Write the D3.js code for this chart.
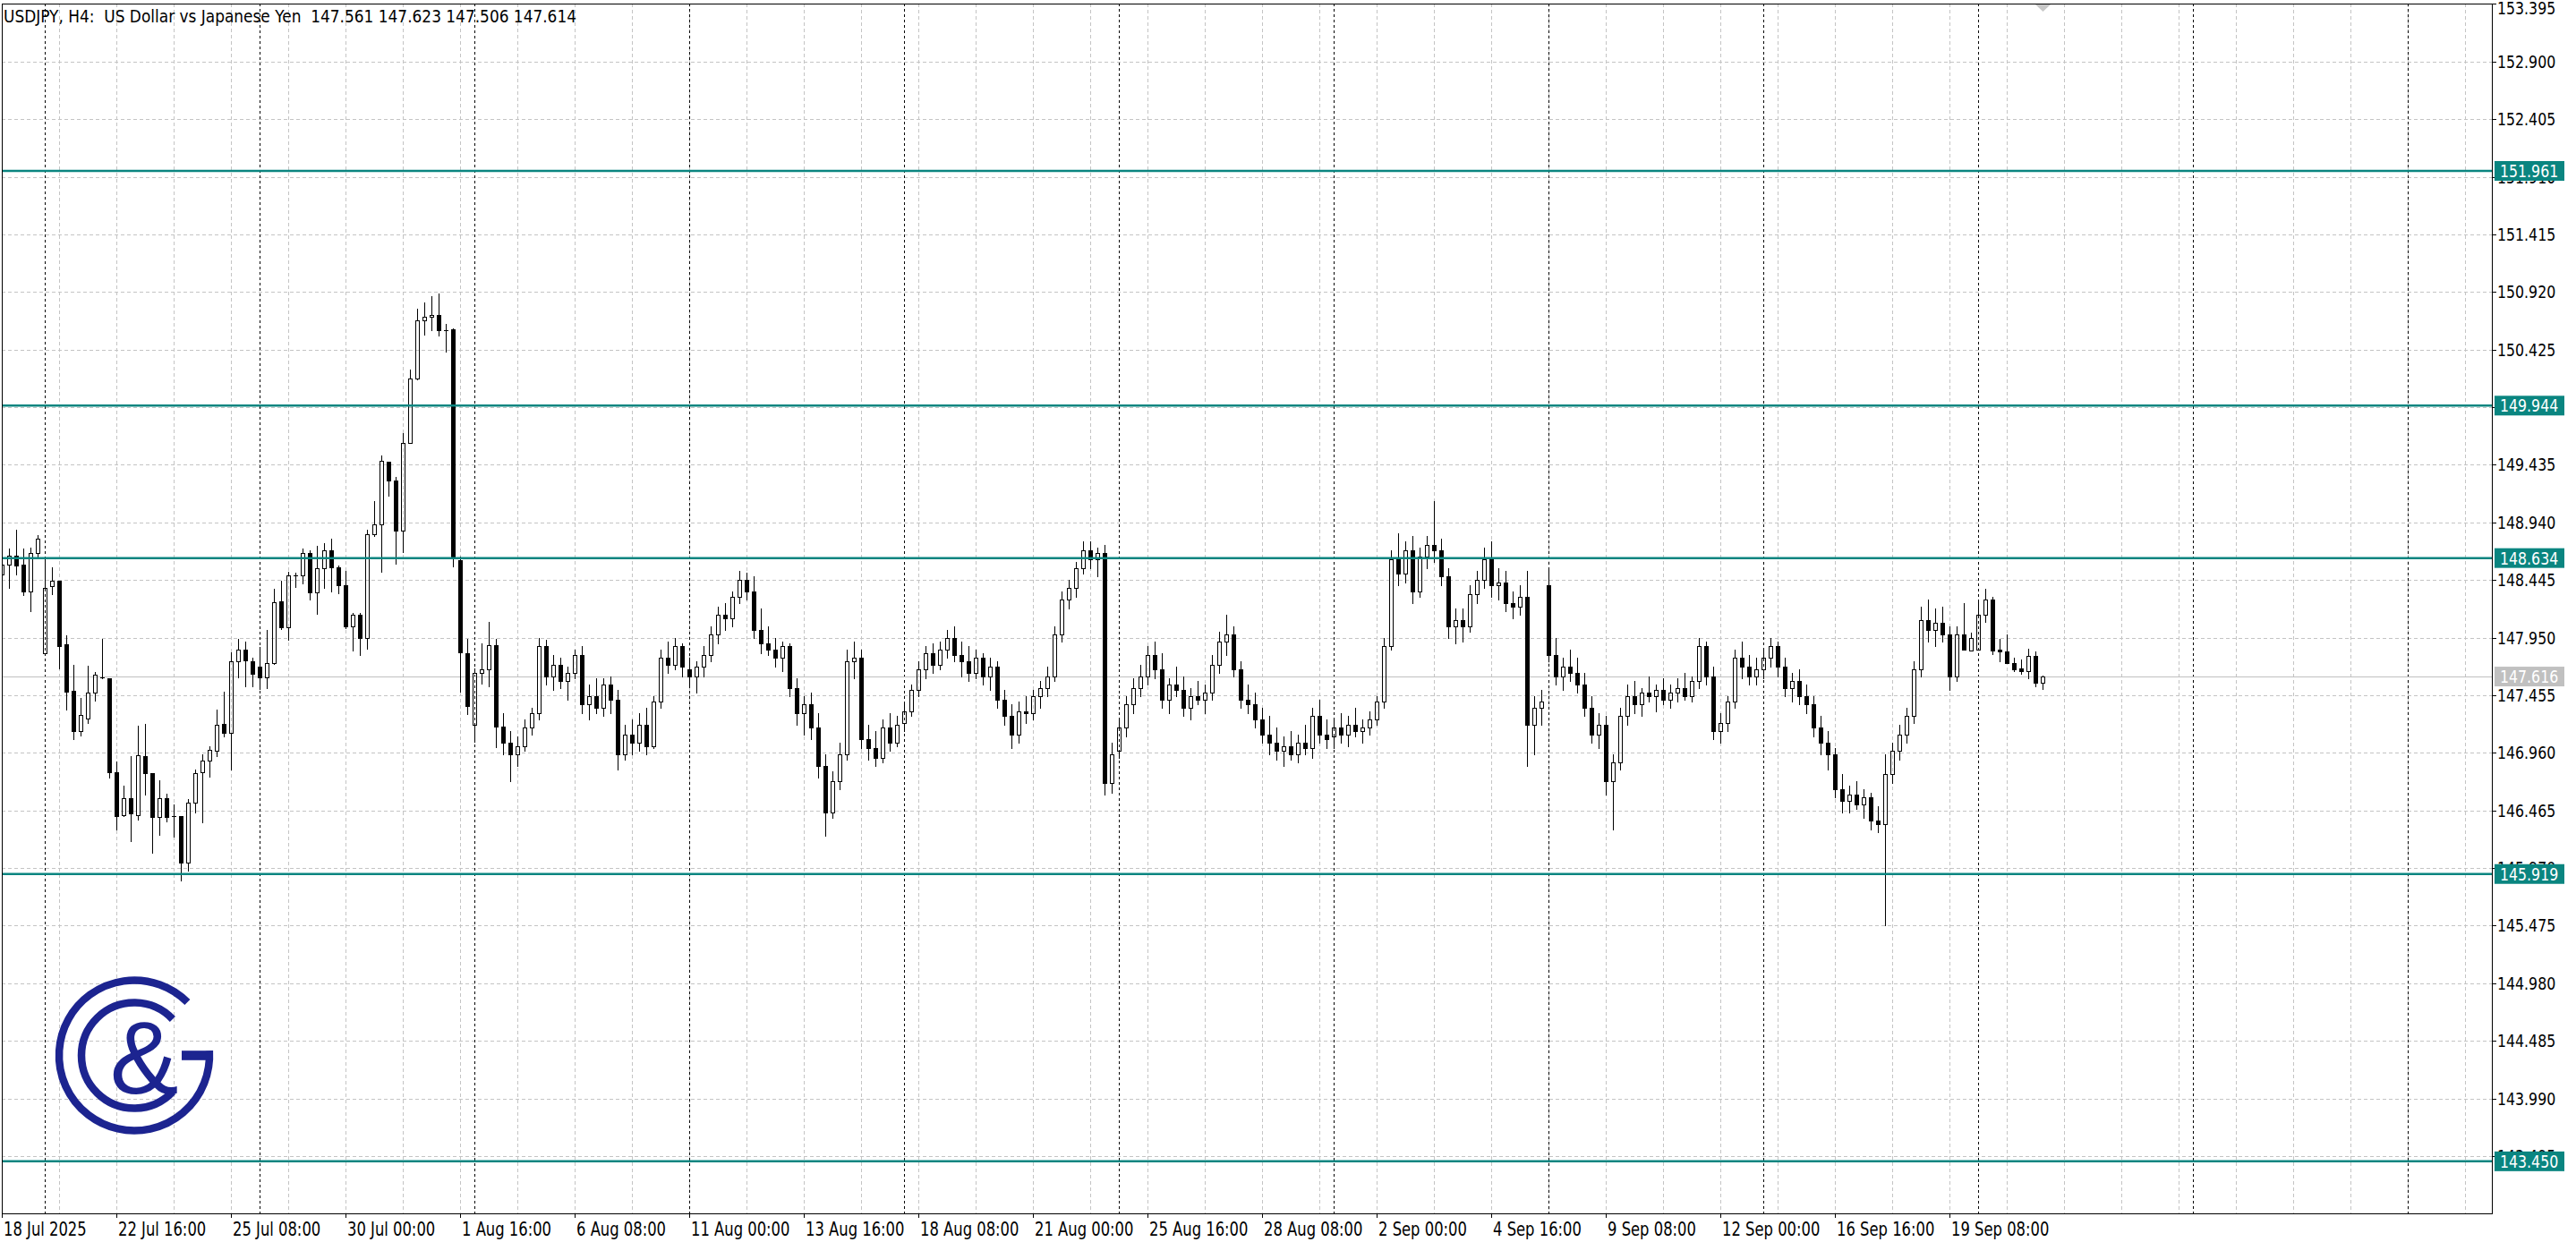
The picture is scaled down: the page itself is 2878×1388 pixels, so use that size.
<!DOCTYPE html>
<html><head><meta charset="utf-8">
<script src="https://cdn.jsdelivr.net/npm/d3@7"></script>
<style>html,body{margin:0;padding:0;background:#fff;overflow:hidden}</style>
</head><body>
<svg id="c" width="2878" height="1388" xmlns="http://www.w3.org/2000/svg"></svg>
<script>
const title = "USDJPY, H4:  US Dollar vs Japanese Yen  147.561 147.623 147.506 147.614";
const opens = [
148.490,148.578,148.657,148.578,148.344,148.675,147.816,148.393,148.437,147.893,
147.494,147.150,147.258,147.476,147.607,147.601,146.791,146.427,146.568,146.427,
146.930,146.786,146.407,146.573,146.420,146.420,146.015,146.535,146.791,146.891,
146.976,147.209,147.129,147.745,147.847,147.745,147.701,147.606,147.734,148.260,
148.042,148.483,148.483,148.675,148.342,148.547,148.701,148.555,148.398,148.047,
148.144,147.950,148.842,148.924,149.462,149.298,148.872,149.623,150.174,150.674,
150.705,150.720,150.595,150.597,148.616,147.816,147.201,147.645,147.675,147.886,
147.183,147.050,146.950,147.020,147.180,147.300,147.880,147.620,147.720,147.580,
147.650,147.800,147.380,147.450,147.350,147.550,147.420,146.950,147.120,147.050,
147.200,147.020,147.400,147.780,147.720,147.880,147.680,147.620,147.700,147.800,
147.980,148.150,148.120,148.300,148.450,148.350,148.020,147.900,147.850,147.780,
147.880,147.520,147.300,147.380,147.180,146.850,146.450,146.720,146.950,147.750,
147.780,147.080,147.000,146.920,147.180,147.050,147.220,147.320,147.500,147.680,
147.820,147.720,147.850,147.950,147.800,147.750,147.650,147.780,147.620,147.700,
147.420,147.280,147.120,147.320,147.300,147.450,147.520,147.620,147.980,148.280,
148.380,148.550,148.700,148.620,148.680,146.700,146.980,147.180,147.380,147.520,
147.620,147.800,147.680,147.420,147.550,147.500,147.350,147.450,147.420,147.480,
147.720,147.920,147.980,147.680,147.420,147.380,147.250,147.120,147.050,146.980,
147.020,146.950,147.050,147.000,147.280,147.120,147.100,147.180,147.120,147.200,
147.150,147.180,147.250,147.400,147.880,148.620,148.500,148.700,148.350,148.650,
148.750,148.700,148.480,148.050,148.100,148.050,148.320,148.450,148.620,148.400,
148.420,148.250,148.220,148.300,147.200,147.350,148.400,147.800,147.620,147.700,
147.650,147.550,147.350,147.120,147.200,146.720,146.880,147.280,147.450,147.380,
147.480,147.450,147.500,147.420,147.480,147.520,147.450,147.580,147.880,147.620,
147.150,147.220,147.400,147.780,147.700,147.620,147.680,147.780,147.880,147.700,
147.520,147.580,147.450,147.380,147.180,147.050,146.950,146.650,146.550,146.600,
146.520,146.580,146.380,146.350,146.780,146.980,147.120,147.280,147.680,148.100,
148.020,148.080,147.980,147.620,147.980,147.842,147.850,148.150,148.278,147.847,
147.829,147.732,147.686,147.663,147.791,147.561];
const highs = [
148.600,148.713,148.875,148.713,148.721,148.829,148.624,148.555,148.437,147.970,
147.719,147.432,147.711,147.657,147.939,147.601,146.886,146.676,146.932,147.196,
147.211,146.786,146.722,146.612,146.517,146.420,146.561,146.817,146.945,147.014,
147.335,147.483,147.822,147.939,147.919,147.778,147.868,148.016,148.367,148.439,
148.514,148.509,148.713,148.701,148.739,148.765,148.803,148.570,148.521,148.162,
148.162,148.875,149.124,149.513,149.462,149.329,149.708,150.251,150.777,150.828,
150.884,150.905,150.643,150.610,148.650,147.939,147.688,147.901,148.086,147.939,
147.300,147.150,147.100,147.250,147.350,147.950,147.930,147.800,147.780,147.700,
147.850,147.880,147.550,147.600,147.600,147.620,147.500,147.200,147.250,147.300,
147.350,147.450,147.850,147.920,147.950,147.900,147.780,147.750,147.880,148.050,
148.220,148.250,148.350,148.520,148.510,148.480,148.200,148.050,147.950,147.920,
147.900,147.600,147.450,147.480,147.300,146.950,146.800,147.050,147.850,147.920,
147.850,147.200,147.150,147.250,147.300,147.280,147.380,147.550,147.750,147.880,
147.900,147.920,148.020,148.050,147.920,147.880,147.850,147.820,147.780,147.750,
147.500,147.380,147.400,147.450,147.500,147.580,147.700,148.050,148.350,148.450,
148.600,148.780,148.780,148.720,148.750,147.050,147.250,147.450,147.600,147.720,
147.880,147.920,147.820,147.600,147.700,147.620,147.520,147.580,147.550,147.800,
148.000,148.150,148.050,147.750,147.550,147.480,147.350,147.280,147.180,147.100,
147.150,147.120,147.200,147.350,147.420,147.250,147.250,147.300,147.280,147.350,
147.250,147.320,147.450,147.950,148.700,148.850,148.780,148.820,148.720,148.820,
149.120,148.800,148.550,148.200,148.200,148.400,148.520,148.720,148.780,148.550,
148.520,148.350,148.400,148.520,147.450,147.500,148.550,147.950,147.780,147.850,
147.780,147.650,147.450,147.300,147.280,146.950,147.350,147.550,147.580,147.520,
147.620,147.550,147.600,147.550,147.600,147.650,147.620,147.950,147.920,147.700,
147.300,147.450,147.850,147.920,147.800,147.780,147.850,147.950,147.920,147.780,
147.650,147.680,147.550,147.450,147.280,147.150,147.000,146.780,146.680,146.720,
146.650,146.620,146.500,146.950,147.050,147.200,147.350,147.750,148.220,148.280,
148.200,148.220,148.050,148.050,148.250,147.996,148.252,148.367,148.298,147.939,
147.975,147.778,147.760,147.855,147.829,147.623];
const lows = [
148.450,148.380,148.496,148.316,148.180,148.649,147.804,148.324,147.688,147.335,
147.081,147.112,147.214,147.406,147.599,146.745,146.304,146.420,146.202,146.386,
146.599,146.104,146.253,146.368,146.240,145.863,145.950,146.445,146.361,146.753,
146.932,147.099,146.817,147.606,147.529,147.529,147.509,147.514,147.727,148.027,
147.932,148.388,148.419,148.278,148.155,148.380,148.350,148.329,148.034,147.842,
147.804,147.855,148.824,148.513,149.170,148.585,148.683,149.620,150.170,150.554,
150.590,150.546,150.405,148.560,147.483,147.291,147.053,147.555,147.534,147.009,
146.950,146.720,146.850,146.980,147.120,147.250,147.550,147.500,147.520,147.420,
147.600,147.300,147.250,147.300,147.280,147.300,146.820,146.900,146.950,146.980,
146.950,147.000,147.350,147.650,147.680,147.620,147.550,147.480,147.620,147.750,
147.900,148.020,148.050,148.250,148.280,147.950,147.820,147.800,147.700,147.660,
147.450,147.200,147.120,147.080,146.750,146.250,146.400,146.650,146.900,147.600,
147.000,146.900,146.850,146.880,146.980,147.020,147.150,147.280,147.450,147.600,
147.650,147.680,147.780,147.750,147.620,147.580,147.600,147.550,147.500,147.350,
147.200,147.000,147.050,147.220,147.250,147.350,147.450,147.580,147.920,148.200,
148.300,148.500,148.550,148.480,146.600,146.620,146.920,147.100,147.300,147.450,
147.550,147.600,147.350,147.300,147.450,147.280,147.250,147.380,147.300,147.420,
147.650,147.800,147.620,147.350,147.300,147.180,147.050,146.950,146.900,146.850,
146.900,146.880,146.950,146.920,147.050,147.000,147.000,147.050,147.020,147.100,
147.050,147.120,147.200,147.350,147.850,148.400,148.420,148.250,148.300,148.550,
148.600,148.400,147.950,147.900,147.920,148.000,148.250,148.380,148.300,148.280,
148.180,148.120,148.150,146.850,146.950,147.200,147.750,147.550,147.500,147.580,
147.480,147.280,147.050,147.000,146.600,146.300,146.820,147.200,147.300,147.280,
147.400,147.320,147.380,147.350,147.400,147.420,147.400,147.520,147.550,147.080,
147.050,147.150,147.350,147.600,147.550,147.550,147.600,147.700,147.620,147.450,
147.400,147.380,147.300,147.100,146.950,146.820,146.580,146.450,146.450,146.480,
146.400,146.300,146.280,145.480,146.700,146.900,147.050,147.220,147.620,147.920,
147.880,147.920,147.500,147.580,147.920,147.840,147.850,148.086,147.811,147.745,
147.730,147.663,147.642,147.598,147.534,147.506];
const closes = [
148.578,148.657,148.573,148.350,148.675,148.803,148.375,148.437,147.880,147.488,
147.150,147.283,147.476,147.629,147.605,146.796,146.420,146.568,146.437,146.937,
146.783,146.407,146.573,146.412,146.418,146.015,146.535,146.783,146.891,146.983,
147.201,147.129,147.745,147.847,147.752,147.637,147.606,147.734,148.257,148.042,
148.483,148.485,148.675,148.342,148.547,148.701,148.552,148.398,148.047,148.144,
147.950,148.836,148.924,149.467,149.298,148.872,149.623,150.174,150.674,150.708,
150.720,150.590,150.593,148.649,147.822,147.360,147.645,147.675,147.886,147.183,
147.050,146.950,147.020,147.180,147.300,147.880,147.620,147.720,147.580,147.650,
147.800,147.380,147.450,147.350,147.550,147.420,146.950,147.120,147.050,147.200,
147.020,147.400,147.780,147.720,147.880,147.700,147.620,147.700,147.800,147.980,
148.150,148.120,148.300,148.450,148.350,148.020,147.900,147.850,147.780,147.880,
147.520,147.300,147.380,147.180,146.850,146.450,146.720,146.950,147.750,147.780,
147.080,147.000,146.920,147.180,147.050,147.200,147.320,147.500,147.680,147.820,
147.720,147.850,147.950,147.800,147.750,147.650,147.780,147.620,147.700,147.420,
147.280,147.120,147.320,147.300,147.450,147.520,147.620,147.980,148.280,148.380,
148.550,148.700,148.620,148.680,146.700,146.950,147.180,147.380,147.520,147.620,
147.800,147.680,147.420,147.550,147.500,147.350,147.450,147.420,147.480,147.720,
147.920,147.980,147.680,147.420,147.380,147.250,147.120,147.050,146.980,147.020,
146.950,147.050,147.000,147.280,147.120,147.080,147.180,147.120,147.200,147.150,
147.180,147.250,147.400,147.880,148.620,148.500,148.700,148.350,148.650,148.750,
148.700,148.480,148.050,148.100,148.050,148.320,148.450,148.620,148.400,148.420,
148.250,148.220,148.300,147.200,147.350,147.400,147.800,147.620,147.700,147.650,
147.550,147.350,147.120,147.200,146.720,146.880,147.280,147.450,147.380,147.480,
147.450,147.500,147.420,147.480,147.520,147.450,147.580,147.880,147.620,147.150,
147.220,147.400,147.780,147.700,147.620,147.680,147.780,147.880,147.700,147.520,
147.580,147.450,147.380,147.180,147.050,146.950,146.650,146.550,146.600,146.520,
146.580,146.380,146.350,146.780,146.980,147.120,147.280,147.680,148.100,148.020,
148.080,147.980,147.620,147.980,147.850,147.945,148.150,148.278,147.842,147.829,
147.734,147.681,147.663,147.791,147.561,147.614];
const timeLabels = ["18 Jul 2025","22 Jul 16:00","25 Jul 08:00","30 Jul 00:00","1 Aug 16:00","6 Aug 08:00","11 Aug 00:00","13 Aug 16:00","18 Aug 08:00","21 Aug 00:00","25 Aug 16:00","28 Aug 08:00","2 Sep 00:00","4 Sep 16:00","9 Sep 08:00","12 Sep 00:00","16 Sep 16:00","19 Sep 08:00"];
const priceTicks = [153.395,152.900,152.405,151.910,151.415,150.920,150.425,149.930,149.435,148.940,148.445,147.950,147.455,146.960,146.465,145.970,145.475,144.980,144.485,143.990,143.495];
const levels = [151.961,149.944,148.634,145.919,143.450];
const bidPrice = 147.616;
const barsPerLabel = 16, barsPerGrid = 8, firstMondayBar = 6, barsPerWeek = 30;

const lastBarIndex = opens.length - 1;
const svg = d3.select("#c");
const P = {left: 2, right: 2784, top: 4, bottom: 1356};
const y = d3.scaleLinear().domain([143.0028, 153.3988]).range([P.bottom, P.top]);
const x = d3.scaleLinear().domain([0, 285]).range([2, 2282]);
const maxIdx = Math.floor(x.invert(P.right));
const TEAL = "#0a8580", GRID = "#c4c4c4";
const FONT = "DejaVu Sans";

svg.append("rect").attr("width", 2878).attr("height", 1388).attr("fill", "#fff");
svg.append("defs").append("clipPath").attr("id", "clip").append("rect")
  .attr("x", P.left).attr("y", P.top).attr("width", P.right - P.left).attr("height", P.bottom - P.top);

const grid = svg.append("g").attr("clip-path", "url(#clip)").attr("shape-rendering", "crispEdges");
grid.selectAll("line.h").data(priceTicks).join("line")
  .attr("x1", P.left).attr("x2", P.right)
  .attr("y1", d => Math.round(y(d)) + 0.5).attr("y2", d => Math.round(y(d)) + 0.5)
  .attr("stroke", GRID).attr("stroke-dasharray", "4,3");
const vIdx = d3.range(barsPerGrid, maxIdx + 1, barsPerGrid);
grid.selectAll("line.v").data(vIdx).join("line")
  .attr("x1", d => Math.round(x(d)) + 0.5).attr("x2", d => Math.round(x(d)) + 0.5)
  .attr("y1", P.top).attr("y2", P.bottom)
  .attr("stroke", GRID).attr("stroke-dasharray", "4,3");
const sIdx = d3.range(firstMondayBar, maxIdx + 1, barsPerWeek);
grid.selectAll("line.s").data(sIdx).join("line")
  .attr("x1", d => Math.round(x(d)) + 0.5).attr("x2", d => Math.round(x(d)) + 0.5)
  .attr("y1", P.top).attr("y2", P.bottom)
  .attr("stroke", "#000").attr("stroke-dasharray", "3,3");
grid.append("line").attr("x1", P.left).attr("x2", P.right)
  .attr("y1", Math.round(y(bidPrice)) + 0.5).attr("y2", Math.round(y(bidPrice)) + 0.5)
  .attr("stroke", "#c0c0c0");

// candles
const bars = opens.map((o, i) => ({i, o, h: highs[i], l: lows[i], c: closes[i]}));
const cg = svg.append("g").attr("clip-path", "url(#clip)").attr("shape-rendering", "crispEdges");
bars.forEach(d => {
  const cx = Math.round(x(d.i));
  const yt = Math.round(y(Math.max(d.o, d.c))), yb = Math.round(y(Math.min(d.o, d.c)));
  const yh = Math.round(y(d.h)), yl = Math.round(y(d.l));
  const bull = d.c >= d.o;
  if (yh < yt) cg.append("line").attr("x1", cx + 0.5).attr("x2", cx + 0.5).attr("y1", yh).attr("y2", yt).attr("stroke", "#000");
  if (yl > yb) cg.append("line").attr("x1", cx + 0.5).attr("x2", cx + 0.5).attr("y1", yb + 1).attr("y2", yl + 1).attr("stroke", "#000");
  if (yb - yt < 1) {
    cg.append("line").attr("x1", cx - 2).attr("x2", cx + 3).attr("y1", yt + 0.5).attr("y2", yt + 0.5).attr("stroke", "#000");
  } else {
    cg.append("rect").attr("x", cx - 1.5).attr("y", yt + 0.5).attr("width", 4).attr("height", yb - yt)
      .attr("fill", bull ? "none" : "#000").attr("stroke", "#000");
  }
});

// level lines
svg.append("g").attr("clip-path", "url(#clip)").selectAll("line").data(levels).join("line")
  .attr("x1", P.left).attr("x2", P.right).attr("y1", d => y(d)).attr("y2", d => y(d))
  .attr("stroke", TEAL).attr("stroke-width", 2.5);

// frame
svg.append("rect").attr("x", P.left + 0.5).attr("y", P.top + 0.5).attr("width", P.right - P.left).attr("height", P.bottom - P.top)
  .attr("fill", "none").attr("stroke", "#000").attr("shape-rendering", "crispEdges");

function fit(sel, factor) {
  sel.each(function() {
    const w = this.getComputedTextLength();
    d3.select(this).attr("textLength", w * factor).attr("lengthAdjust", "spacingAndGlyphs");
  });
}

// price axis
const ax = svg.append("g");
ax.selectAll("line").data(priceTicks).join("line")
  .attr("x1", P.right).attr("x2", P.right + 5)
  .attr("y1", d => Math.round(y(d)) + 0.5).attr("y2", d => Math.round(y(d)) + 0.5)
  .attr("stroke", "#000").attr("shape-rendering", "crispEdges");
const pl = ax.selectAll("text").data(priceTicks).join("text")
  .attr("x", 2790).attr("y", d => Math.max(y(d), 9) + 7)
  .attr("font-family", FONT).attr("font-size", 19).attr("fill", "#000")
  .text(d => d.toFixed(3));
fit(pl, 0.83);

// time axis
const tIdx = timeLabels.map((t, k) => k * barsPerLabel);
ax.selectAll("line.t").data(tIdx).join("line")
  .attr("x1", d => Math.round(x(d)) + 0.5).attr("x2", d => Math.round(x(d)) + 0.5)
  .attr("y1", P.bottom).attr("y2", P.bottom + 5)
  .attr("stroke", "#000").attr("shape-rendering", "crispEdges");
const tl = ax.selectAll("text.t").data(timeLabels).join("text")
  .attr("x", (d, k) => Math.round(x(tIdx[k])) + 2).attr("y", 1381)
  .attr("font-family", FONT).attr("font-size", 21).attr("fill", "#000")
  .text(d => d);
fit(tl, 0.78);

// level boxes
const boxes = levels.map(v => ({v, fill: TEAL})).concat([{v: bidPrice, fill: "#c0c0c0"}]);
const bg = svg.append("g");
boxes.forEach(b => {
  const cy = y(b.v);
  bg.append("rect").attr("x", 2787).attr("y", cy - 11).attr("width", 78).attr("height", 22).attr("fill", b.fill);
  const t = bg.append("text").attr("x", 2793).attr("y", cy + 7)
    .attr("font-family", FONT).attr("font-size", 19).attr("fill", "#fff").text(b.v.toFixed(3));
  fit(t, 0.83);
});

// shift marker
svg.append("path").attr("d", `M${x(lastBarIndex) - 8},5 L${x(lastBarIndex) + 9},5 L${x(lastBarIndex) + 0.5},13 Z`).attr("fill", "#c8c8c8");

// title
const tt = svg.append("text").attr("x", 4).attr("y", 25).attr("font-family", FONT).attr("font-size", 20)
  .attr("fill", "#000").style("white-space", "pre").text(title);
tt.attr("textLength", 640).attr("lengthAdjust", "spacingAndGlyphs");

// logo
const LC = "#1c2490", lx = 150, ly = 1179.5;
const pt = (r, a) => [lx + r * Math.cos(a * Math.PI / 180), ly + r * Math.sin(a * Math.PI / 180)];
const lg = svg.append("g");
let s = pt(84, -45), e = pt(84, -3.5);
lg.append("path").attr("d", `M${s} A84,84 0 1 0 ${e}`).attr("fill", "none").attr("stroke", LC).attr("stroke-width", 8.5);
lg.append("rect").attr("x", lx + 53).attr("y", ly - 5.3).attr("width", 35).attr("height", 10.6).attr("fill", LC);
s = pt(59, -43.4); e = pt(59, 43.3);
lg.append("path").attr("d", `M${s} A59,59 0 1 0 ${e}`).attr("fill", "none").attr("stroke", LC).attr("stroke-width", 8.5);
lg.append("text").attr("x", 161).attr("y", 1222).attr("text-anchor", "middle")
  .attr("font-family", "Liberation Sans").attr("font-size", 115).attr("fill", LC).text("&");
</script>
</body></html>
